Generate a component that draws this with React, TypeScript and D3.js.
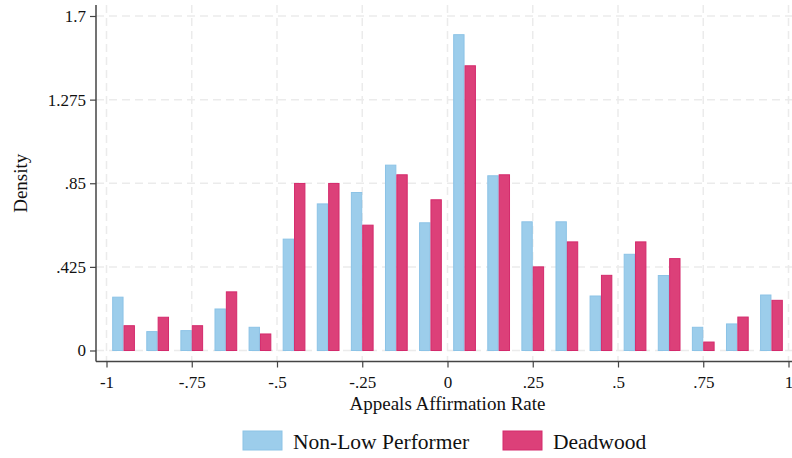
import React, { useEffect, useRef } from "react";
import * as d3 from "d3";

// bin starts, width .1
const binStarts = [-1, -0.9, -0.8, -0.7, -0.6, -0.5, -0.4, -0.3, -0.2, -0.1, 0, 0.1, 0.2, 0.3, 0.4, 0.5, 0.6, 0.7, 0.8, 0.9];
const nonLowPerformer = [0.271, 0.096, 0.101, 0.211, 0.118, 0.566, 0.745, 0.803, 0.942, 0.649, 1.605, 0.888, 0.654, 0.654, 0.277, 0.489, 0.381, 0.118, 0.135, 0.282];
const deadwood = [0.126, 0.169, 0.126, 0.298, 0.084, 0.849, 0.849, 0.637, 0.893, 0.766, 1.447, 0.893, 0.425, 0.552, 0.382, 0.552, 0.467, 0.043, 0.17, 0.255];
const xTicks = [-1, -0.75, -0.5, -0.25, 0, 0.25, 0.5, 0.75, 1];
const xTickLabels = ["-1", "-.75", "-.5", "-.25", "0", ".25", ".5", ".75", "1"];
const yTicks = [0, 0.425, 0.85, 1.275, 1.7];
const yTickLabels = ["0", ".425", ".85", "1.275", "1.7"];

const W = 792;
const H = 458;
const FONT = "'Liberation Serif', serif";

export default function App() {
  const svgRef = useRef<SVGSVGElement>(null);

  useEffect(() => {
    const svg = d3.select(svgRef.current);
    svg.selectAll("*").remove();

    const x = d3.scaleLinear().domain([-1, 1]).range([106.5, 788.5]);
    const y = d3.scaleLinear().domain([0, 1.7]).range([350.5, 16]);
    const left = 96, right = 792, top = 5, bottom = 361.5;
    const binW = x(0.1) - x(0);
    const barW = binW / 3;

    // grid
    const grid = svg.append("g").attr("stroke", "#ebebeb").attr("stroke-width", 1.5).attr("stroke-dasharray", "8,5");
    grid.selectAll(".gy").data(yTicks).join("line")
      .attr("x1", left).attr("x2", right).attr("y1", d => y(d)).attr("y2", d => y(d));
    grid.selectAll(".gx").data(xTicks).join("line")
      .attr("x1", d => x(d)).attr("x2", d => x(d)).attr("y1", top).attr("y2", bottom);

    // bars
    const bins = binStarts.map((b, i) => ({ b, v1: nonLowPerformer[i], v2: deadwood[i] }));
    svg.append("g").selectAll("rect").data(bins).join("rect")
      .attr("x", d => x(d.b) + barW / 2 + 0.5)
      .attr("y", d => y(d.v1))
      .attr("width", barW - 1)
      .attr("height", d => y(0) - y(d.v1))
      .attr("fill", "#9ccdeb").attr("stroke", "#8cc3e6").attr("stroke-width", 1);
    svg.append("g").selectAll("rect").data(bins).join("rect")
      .attr("x", d => x(d.b) + barW * 1.5 + 0.5)
      .attr("y", d => y(d.v2))
      .attr("width", barW - 1)
      .attr("height", d => y(0) - y(d.v2))
      .attr("fill", "#dc4079").attr("stroke", "#d42a6c").attr("stroke-width", 1);

    // axes
    const yAxis = d3.axisLeft(y).tickValues(yTicks).tickFormat((d, i) => yTickLabels[i]).tickSize(6).tickPadding(4);
    const gy = svg.append("g").attr("transform", `translate(${left},0)`).call(yAxis);
    gy.select(".domain").attr("d", `M0,${top}V${bottom}`);
    const xAxis = d3.axisBottom(x).tickValues(xTicks).tickFormat((d, i) => xTickLabels[i]).tickSize(6).tickPadding(8);
    const gx = svg.append("g").attr("transform", `translate(0,${bottom})`).call(xAxis);
    gx.select(".domain").attr("d", `M${left},0H${right}`);
    [gx, gy].forEach(g => {
      g.selectAll("line").attr("stroke", "#444").attr("stroke-width", 1.2);
      g.select(".domain").attr("stroke", "#444").attr("stroke-width", 1.5);
      g.selectAll("text").attr("font-family", FONT).attr("font-size", 17).attr("fill", "#111");
    });

    // titles
    svg.append("text").attr("x", x(0)).attr("y", 410).attr("text-anchor", "middle")
      .attr("font-family", FONT).attr("font-size", 19).attr("fill", "#111").text("Appeals Affirmation Rate");
    svg.append("text").attr("transform", `translate(27,${(top + bottom) / 2}) rotate(-90)`).attr("text-anchor", "middle")
      .attr("font-family", FONT).attr("font-size", 19).attr("fill", "#111").text("Density");

    // legend
    const legend = [
      { label: "Non-Low Performer", fill: "#9ccdeb", stroke: "#8cc3e6", x: 243 },
      { label: "Deadwood", fill: "#dc4079", stroke: "#d42a6c", x: 503 },
    ];
    const lg = svg.append("g").selectAll("g").data(legend).join("g").attr("transform", d => `translate(${d.x},431)`);
    lg.append("rect").attr("width", 39).attr("height", 19).attr("fill", d => d.fill).attr("stroke", d => d.stroke);
    lg.append("text").attr("x", 50).attr("y", 18).attr("font-family", FONT).attr("font-size", 21.5).attr("fill", "#111").text(d => d.label);
  }, []);

  return (
    <div style={{ position: "absolute", left: 0, top: 0, width: W, height: H, background: "#fff" }}>
      <svg ref={svgRef} width={W} height={H}></svg>
    </div>
  );
}
